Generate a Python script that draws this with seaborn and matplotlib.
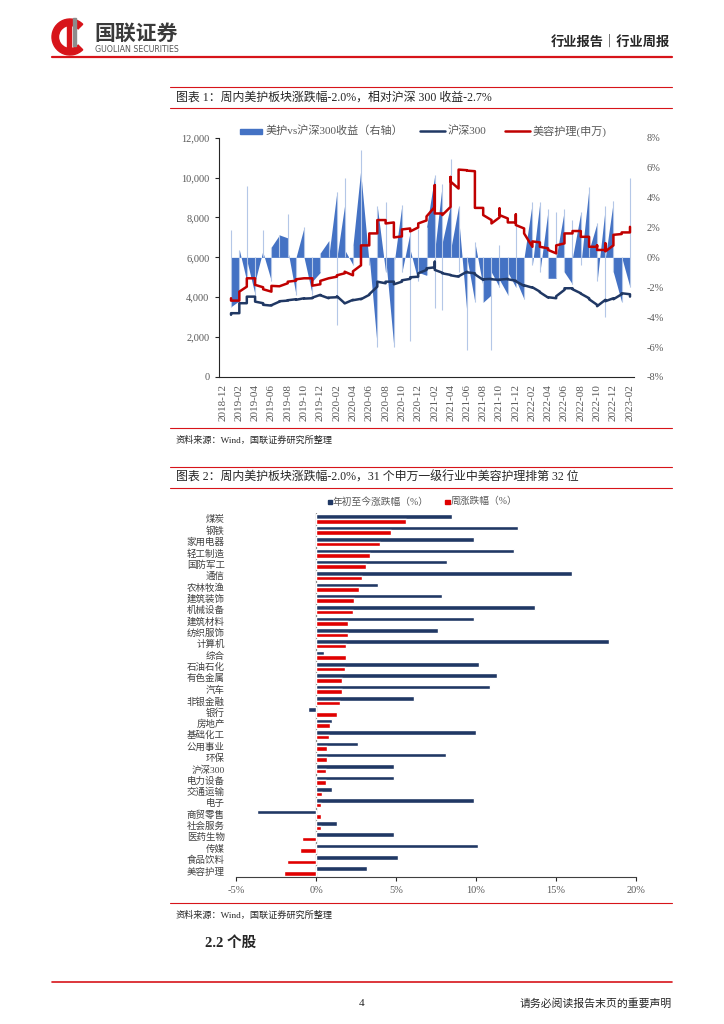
import pandas as pd
import seaborn as sns
import matplotlib.pyplot as plt
from matplotlib.patches import Rectangle, Wedge

# ---------------- data ----------------
# chart 1: weekly values, Excel puts every week of a month on the same x (monthly date axis)
months = pd.date_range('2019-01-01', '2023-02-01', freq='MS')

hs300 = [[3120, 3200], [3200, 3700], [3700, 4030], [4030, 3780], [3700, 3620],
         [3580, 3600], [3780, 3800], [3830, 3850], [3900, 3870], [3950, 3930],
         [3950, 3980], [4120, 4100], [3950, 3980], [4000, 4050], [3700, 3690],
         [3870, 3850], [3920, 3900], [4120, 4150], [4530, 4780], [4700, 4780],
         [4780, 4650], [4780, 4850], [4920, 5000], [5030, 5200], [5370, 5450],
         [5500, 5780, 5370], [5230, 5200], [5120, 5100], [5030, 5050], [5280, 5250],
         [5200, 5150], [4870, 4900], [4920, 4900], [4870, 4880], [4920, 4900],
         [4830, 4800], [4570, 4600], [4480, 4500], [4280, 4250], [3980, 4000],
         [3950, 4050], [4370, 4450], [4450, 4400], [4200, 4180], [3950, 3900],
         [3620, 3550], [3870, 3800], [3950, 3900], [4150, 4200], [4150, 4030]]

beauty = [[3950, 3830], [3830, 4280], [4530, 4950], [4950, 4620], [4500, 4400],
          [4280, 4570], [4550, 4550], [4700, 4780], [4830, 4900], [4950, 4950],
          [4950, 4580], [4650, 4820], [4950, 4950], [5030, 5100], [5200, 5280],
          [5100, 5300], [5600, 6600], [6600, 7200], [7200, 7870], [7870, 7700],
          [7750, 7000], [7050, 7400], [7450, 7300], [7500, 7700], [7850, 8050],
          [8530, 9620, 8200], [8200, 8120], [8530, 10030, 9800], [9450, 10400], [10370, 10350],
          [10320, 8480], [8480, 8120], [7870, 7700], [8000, 8450, 8120], [7950, 7750],
          [7750, 8150, 7620], [7450, 7200], [6530, 6800], [6750, 6530], [6450, 6370],
          [6200, 6600], [6700, 7200], [7200, 7320], [7320, 7030], [7030, 6530],
          [6530, 6600, 6370], [6370, 6700, 6300], [6600, 7130], [7170, 7250], [7250, 7530]]

rel = [[1.8, -3.3], [-2.9, 0.5], [-1.6, 4.8, -0.2], [-2.5, -1.6], [0.5, 1.8, 0.3],
       [-1.6, 0.7], [1.5, 1.5], [1.3, 2.9, 0.5], [-2.5, 0.0], [2.0, 0.0],
       [-2.5, -1.6], [-1.0, 0.3], [1.1, 0.0], [4.4, -4.5, 0.0], [3.5, 5.3, 0.5],
       [-0.5, 0.8], [6.0, 7.2, 5.5], [-0.5, 0.0], [-6.0, 3.4], [-1.0, 3.7, 0.0],
       [-6.0, -0.5], [3.5, -1.0], [1.7, -5.6, 0.5], [-1.6, 1.9, -1.0], [-1.2, 2.0],
       [5.5, -3.4, 0.5], [4.9, -3.5, 1.0], [3.5, 6.6, 0.5], [3.4, -1.0, 2.7], [-3.7, -6.2, 0.0],
       [-3.0, 1.0], [-2.0, -3.0], [-2.5, -6.2, -1.0], [-2.0, 0.8, -1.5], [-2.5, -1.0],
       [-2.0, 2.5, -1.5], [-2.8, 0.0], [3.7, -0.5], [3.7, -1.0], [3.2, -1.4],
       [-1.4, 3.0, 0.0], [3.2, -1.0], [-1.8, 2.5, 0.0], [3.0, -0.5], [4.7, 0.5],
       [2.3, -1.6], [3.4, -4.0, 0.0], [3.8, -1.0], [-3.0, 0.0], [-2.0, 5.3, 0.5]]

# chart 2
industries = ['煤炭', '钢铁', '家用电器', '轻工制造', '国防军工', '通信', '农林牧渔', '建筑装饰',
              '机械设备', '建筑材料', '纺织服饰', '计算机', '综合', '石油石化', '有色金属', '汽车',
              '非银金融', '银行', '房地产', '基础化工', '公用事业', '环保', '沪深300', '电力设备',
              '交通运输', '电子', '商贸零售', '社会服务', '医药生物', '传媒', '食品饮料', '美容护理']
ytd = [8.5, 12.6, 9.9, 12.4, 8.2, 16.0, 3.9, 7.9, 13.7, 9.9, 7.6, 18.3, 0.5, 10.2, 11.3, 10.9,
       6.1, -0.5, 1.0, 10.0, 2.6, 8.1, 4.9, 4.9, 1.0, 9.9, -3.7, 1.3, 4.9, 10.1, 5.1, 3.2]
week = [5.6, 4.7, 4.0, 3.4, 3.1, 2.9, 2.7, 2.4, 2.3, 2.0, 2.0, 1.9, 1.9, 1.8, 1.6, 1.6,
        1.5, 1.3, 0.9, 0.8, 0.7, 0.7, 0.6, 0.6, 0.4, 0.3, 0.3, 0.3, -0.9, -1.0, -1.8, -2.0]

RED = '#c00000'
NAVY = '#203864'
BLUE = '#4472c4'
GRAY = '#595959'


def flatten(series):
    rows = []
    for m, vals in zip(months, series):
        for v in vals:
            rows.append((m, v))
    return pd.DataFrame(rows, columns=['date', 'value'])


df_hs = flatten(hs300)
df_bt = flatten(beauty)
df_rel = flatten(rel)

sns.set_style('white')
plt.rcParams['font.family'] = ['Liberation Serif', 'Noto Sans CJK SC']
plt.rcParams['axes.unicode_minus'] = False

W, H = 724, 1024
fig = plt.figure(figsize=(W / 100, H / 100), dpi=100)

# page overlay in pixel coordinates
pg = fig.add_axes([0, 0, 1, 1])
pg.set_xlim(0, W)
pg.set_ylim(H, 0)
pg.axis('off')

# header
pg.add_patch(Wedge((70, 37), 18, 45, 315, width=6.5, color='#d7141a'))
pg.add_patch(Rectangle((67, 25), 4, 28, color='#d7141a'))
pg.add_patch(Rectangle((73, 18), 3, 28, color='#8c8c8c'))
pg.text(94, 33, '国联证券', fontsize=15, fontweight='bold', color='#3a3a3a', va='center',
        family='Noto Sans CJK SC')
pg.text(95, 49.5, 'GUOLIAN SECURITIES', fontsize=5.7, color='#555555', va='center', family='DejaVu Sans')
pg.text(670, 42, '行业报告｜行业周报', fontsize=9.5, fontweight='bold', ha='right', va='center',
        family='Noto Sans CJK SC')
pg.plot([52, 672], [57, 57], color='#d7141a', lw=1.6)

# chart 1 title / source
for y in (87, 108, 428):
    pg.plot([170, 672], [y, y], color='#d7141a', lw=0.8)
pg.text(176, 97.5, '图表 1：周内美护板块涨跌幅-2.0%，相对沪深 300 收益-2.7%', fontsize=8.6, va='center')
pg.text(176, 440, '资料来源：Wind，国联证券研究所整理', fontsize=6.6, va='center')

# chart 2 title / source
for y in (467, 488, 903):
    pg.plot([170, 672], [y, y], color='#d7141a', lw=0.8)
pg.text(176, 478, '图表 2：周内美护板块涨跌幅-2.0%，31 个申万一级行业中美容护理排第 32 位', fontsize=8.6,
        va='center')
pg.text(176, 915, '资料来源：Wind，国联证券研究所整理', fontsize=6.6, va='center')

pg.text(205, 943, '2.2 个股', fontsize=10.5, fontweight='bold', va='center')

# footer
pg.plot([52, 672], [982, 982], color='#d7141a', lw=1.2)
pg.text(362, 1004, '4', fontsize=8, ha='center', va='center')
pg.text(672, 1004, '请务必阅读报告末页的重要声明', fontsize=7.8, ha='right', va='center')

# chart 1 legend
pg.add_patch(Rectangle((240, 128.5), 22, 5, color=BLUE))
pg.text(266, 131, '美护vs沪深300收益（右轴）', fontsize=8, color=GRAY, va='center')
pg.plot([420, 445], [131, 131], color=NAVY, lw=1.8)
pg.text(448, 131, '沪深300', fontsize=8, color=GRAY, va='center')
pg.plot([505, 530], [131, 131], color=RED, lw=1.8)
pg.text(533, 131, '美容护理(申万)', fontsize=8, color=GRAY, va='center')

# chart 2 legend
pg.add_patch(Rectangle((327.5, 499.5), 4.5, 4.5, color=NAVY))
pg.text(333, 501.7, '年初至今涨跌幅（%）', fontsize=7, color=GRAY, va='center')
pg.add_patch(Rectangle((445, 499.5), 4.5, 4.5, color='#e00000'))
pg.text(450.5, 501.7, '周涨跌幅（%）', fontsize=7, color=GRAY, va='center')

# ---------------- chart 1 ----------------
ax1 = fig.add_axes([219 / W, 1 - 377 / H, (634 - 219) / W, (377 - 137.7) / H])
axr = ax1.twinx()

axr.fill_between(df_rel['date'], 0, df_rel['value'], color=BLUE, lw=0)
for m, vals in zip(months, rel):
    axr.vlines(m, min(0, min(vals)), max(0, max(vals)), color='#b4c7e7', lw=0.8)
axr.set_ylim(-8, 8)
axr.set_yticks(range(-8, 9, 2))
axr.set_yticklabels([f'{v}%' for v in range(-8, 9, 2)])
axr.tick_params(axis='y', length=0, pad=9, labelsize=7.5, labelcolor=GRAY)

sns.lineplot(data=df_hs, x='date', y='value', estimator=None, sort=False, color=NAVY, lw=1.8,
             ax=ax1, legend=False)
sns.lineplot(data=df_bt, x='date', y='value', estimator=None, sort=False, color=RED, lw=1.8,
             ax=ax1, legend=False)
ax1.set_zorder(axr.get_zorder() + 1)
ax1.patch.set_visible(False)

ax1.set_ylim(0, 12000)
ax1.set_yticks(range(0, 12001, 2000))
ax1.set_yticklabels([f'{v:,}' for v in range(0, 12001, 2000)])
xt = pd.date_range('2018-12-01', '2023-02-01', freq='2MS')
ax1.set_xlim(pd.Timestamp('2018-11-17'), pd.Timestamp('2023-02-16'))
ax1.set_xticks(xt)
ax1.set_xticklabels([d.strftime('%Y-%m') for d in xt], rotation=90)
ax1.tick_params(axis='x', length=3, width=0.8, labelsize=8, labelcolor=GRAY, pad=2)
ax1.tick_params(axis='y', length=3, width=0.8, labelsize=7.5, labelcolor=GRAY, pad=4, left=True)
ax1.set_xlabel('')
ax1.set_ylabel('')
for ax in (ax1, axr):
    for s in ('top', 'right'):
        ax.spines[s].set_visible(False)
axr.spines['left'].set_visible(False)
axr.spines['bottom'].set_visible(False)
ax1.spines['left'].set_color('#262626')
ax1.spines['bottom'].set_color('#262626')
ax1.spines['left'].set_linewidth(0.8)
ax1.spines['bottom'].set_linewidth(0.8)

# ---------------- chart 2 ----------------
df2 = pd.DataFrame({
    'industry': industries * 2,
    'value': ytd + week,
    'series': ['年初至今涨跌幅（%）'] * len(industries) + ['周涨跌幅（%）'] * len(industries),
})
ax2 = fig.add_axes([236 / W, 1 - 876.7 / H, (636 - 236) / W, (876.7 - 513.3) / H])
sns.barplot(data=df2, x='value', y='industry', hue='series', orient='h',
            palette=[NAVY, '#e00000'], saturation=1, width=0.8, ax=ax2, legend=False)
ax2.set_xlim(-5, 20)
ax2.set_xticks(range(-5, 21, 5))
ax2.set_xticklabels([f'{v}%' for v in range(-5, 21, 5)])
ax2.axvline(0, color='#7f7f7f', lw=0.9, zorder=0)
ax2.tick_params(axis='x', length=3, width=0.8, labelsize=7.5, labelcolor=GRAY, pad=4, bottom=True)
ax2.tick_params(axis='y', length=0, labelsize=6.8, labelcolor='#404040', pad=8)
ax2.set_xlabel('')
ax2.set_ylabel('')
for s in ('top', 'right', 'left'):
    ax2.spines[s].set_visible(False)
ax2.spines['bottom'].set_color('#404040')
ax2.spines['bottom'].set_linewidth(0.8)

fig.savefig('out.png', dpi=100)
